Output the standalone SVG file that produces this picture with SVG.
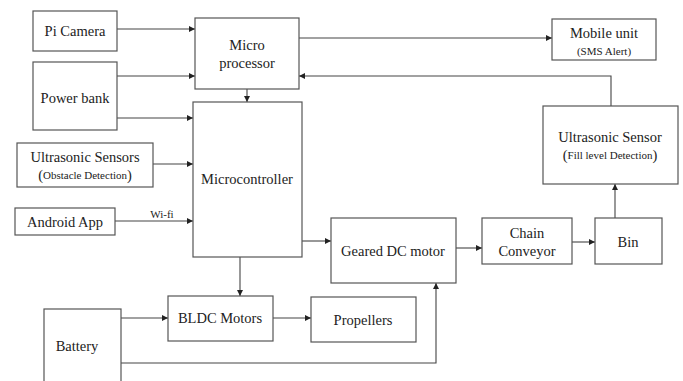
<svg xmlns="http://www.w3.org/2000/svg" width="683" height="381" viewBox="0 0 683 381" font-family="'Liberation Serif', 'Tinos', 'DejaVu Serif', serif">
<defs>
<style>
rect{fill:#fff;stroke:#555;stroke-width:1.2}
text{font-family:'Liberation Serif','Tinos','DejaVu Serif',serif;font-size:14.5px;fill:#222;text-anchor:middle;dominant-baseline:central}
.s{font-size:11px}
.c line,.c polyline{stroke:#444;stroke-width:1.1;fill:none;marker-end:url(#a)}
</style>
<marker id="a" viewBox="0 0 8 8" refX="8" refY="4" markerWidth="6" markerHeight="6" markerUnits="userSpaceOnUse" orient="auto"><path d="M0,0L8,4L0,8z" fill="#222"/></marker>
</defs>
<rect x="0" y="0" width="683" height="381" style="stroke:none"/>
<g class="c">
<line x1="117" y1="29" x2="195" y2="29"/>
<line x1="117" y1="76" x2="195" y2="76"/>
<line x1="117" y1="118" x2="193" y2="118"/>
<line x1="153" y1="164" x2="193" y2="164"/>
<line x1="115" y1="221" x2="193" y2="221"/>
<line x1="247" y1="89" x2="247" y2="102"/>
<line x1="299" y1="38" x2="552" y2="38"/>
<polyline points="611,106 611,76 299,76"/>
<line x1="240" y1="257" x2="240" y2="296"/>
<line x1="121" y1="318" x2="168" y2="318"/>
<line x1="273" y1="318" x2="311" y2="318"/>
<polyline points="121,363 436,363 436,283"/>
<line x1="302" y1="241" x2="331" y2="241"/>
<line x1="456" y1="248" x2="482" y2="248"/>
<line x1="572" y1="242" x2="595" y2="242"/>
<line x1="615" y1="218" x2="615" y2="184"/>
</g>
<text class="s" x="162" y="214">Wi-fi</text>
<g id="picamera"><rect x="33" y="11" width="84" height="40"/><text x="75" y="31">Pi Camera</text></g>
<g id="powerbank"><rect x="33" y="62" width="84" height="68"/><text x="75" y="98">Power bank</text></g>
<g id="ultrasonic1"><rect x="17" y="143" width="136" height="44"/><text x="85" y="157">Ultrasonic Sensors</text><text x="85" y="175"><tspan>(</tspan><tspan class="s">Obstacle Detection</tspan><tspan>)</tspan></text></g>
<g id="android"><rect x="15" y="208" width="100" height="27"/><text x="65" y="222">Android App</text></g>
<g id="microprocessor"><rect x="195" y="18" width="104" height="71"/><text x="247" y="45">Micro</text><text x="247" y="63">processor</text></g>
<g id="microcontroller"><rect x="193" y="102" width="109" height="155"/><text x="247" y="179">Microcontroller</text></g>
<g id="mobile"><rect x="552" y="19" width="104" height="41"/><text x="604" y="33">Mobile unit</text><text class="s" x="604" y="51">(SMS Alert)</text></g>
<g id="ultrasonic2"><rect x="543" y="106" width="135" height="78"/><text x="610" y="137">Ultrasonic Sensor</text><text x="610" y="155"><tspan>(</tspan><tspan class="s">Fill level Detection</tspan><tspan>)</tspan></text></g>
<g id="geared"><rect x="331" y="218" width="125" height="65"/><text x="393" y="251">Geared DC motor</text></g>
<g id="chain"><rect x="482" y="218" width="90" height="46"/><text x="527" y="233">Chain</text><text x="527" y="251">Conveyor</text></g>
<g id="bin"><rect x="595" y="218" width="67" height="46"/><text x="628" y="242">Bin</text></g>
<g id="bldc"><rect x="168" y="296" width="105" height="45"/><text x="220" y="318">BLDC Motors</text></g>
<g id="propellers"><rect x="311" y="297" width="105" height="45"/><text x="363" y="320">Propellers</text></g>
<g id="battery"><rect x="44" y="309" width="77" height="80"/><text x="77" y="346">Battery</text></g>
</svg>
